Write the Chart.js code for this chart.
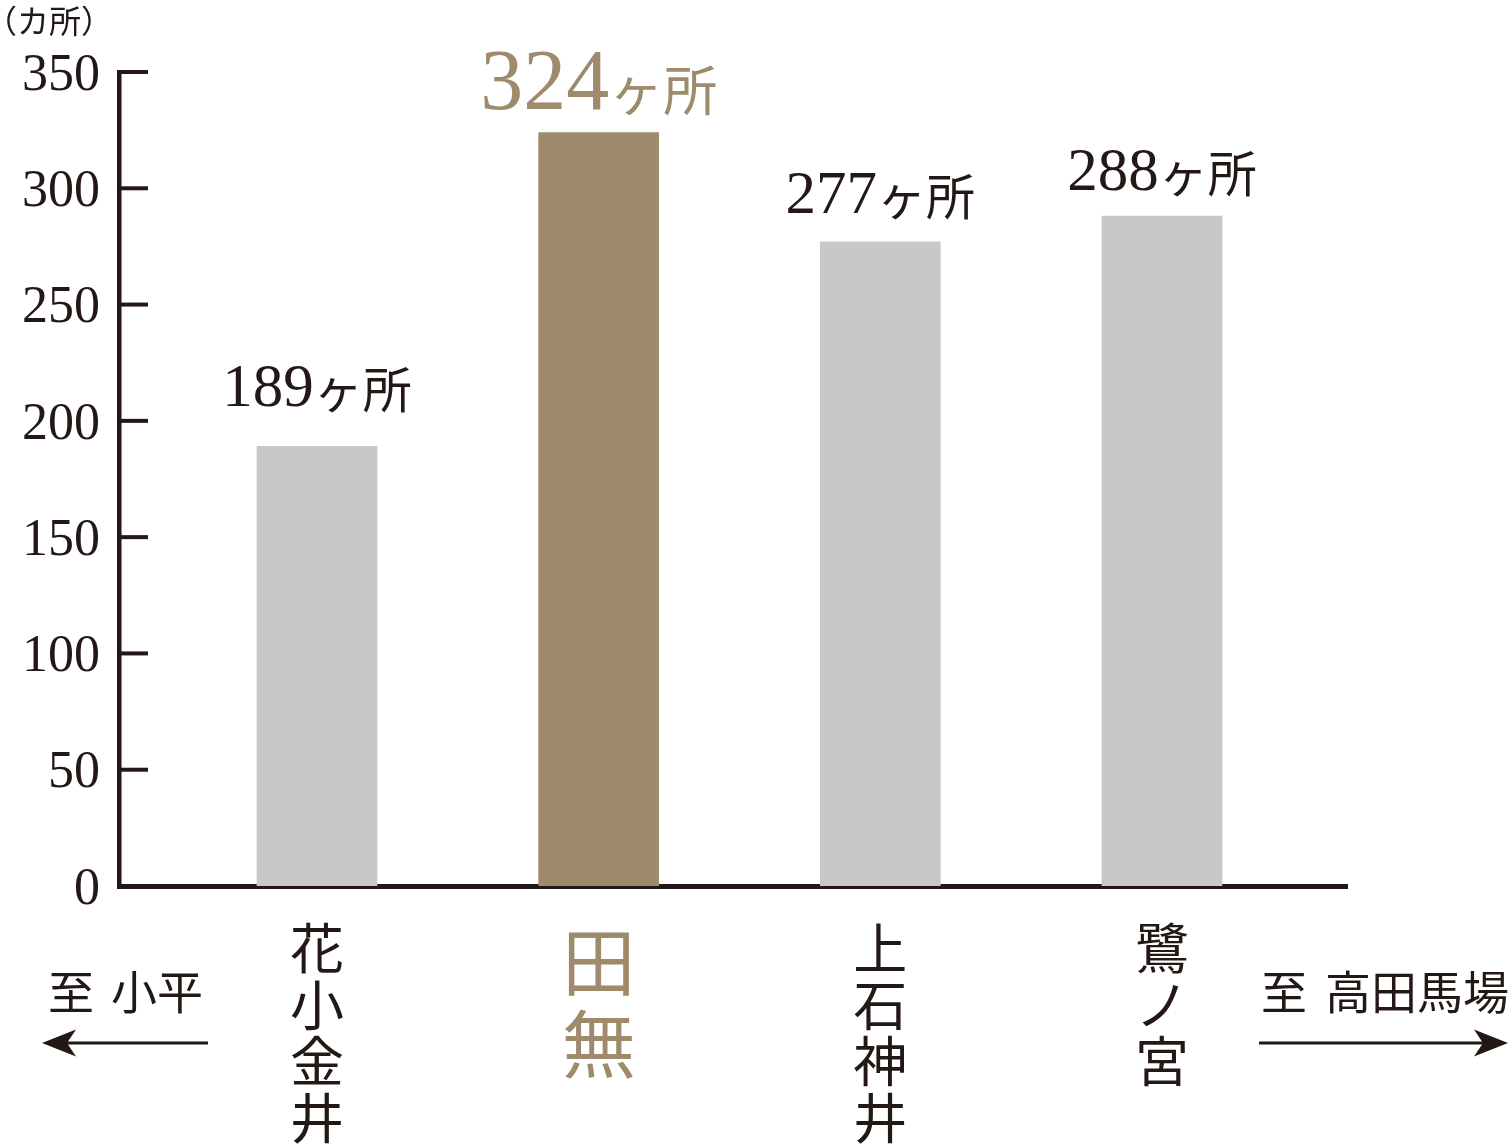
<!DOCTYPE html>
<html><head><meta charset="utf-8">
<script src="https://cdn.jsdelivr.net/npm/chart.js@4.4.0/dist/chart.umd.min.js"></script>
<style>html,body{margin:0;padding:0;background:#fff;} #wrap{position:relative;width:1512px;height:1146px;}</style>
</head><body><div id="wrap"><canvas id="c"></canvas></div>
<script>
// ---- data ----
const categories = ['花小金井', '田無', '上石神井', '鷺ノ宮'];
const counts = [189, 324, 277, 288];
const yTicks = [0, 50, 100, 150, 200, 250, 300, 350];
const unitLabel = '（カ所）';
const valueSuffix = 'ヶ所';
const leftDir = ['至', '小平'];
const rightDir = ['至', '高田馬場'];
const highlightIndex = 1;

// ---- styles ----
const DARK = '#231815', BROWN = '#9e8b6c', GRAY = '#c8c8c8';
const SERIF = '"Liberation Serif", "Noto Sans CJK JP", serif';
const CJK = '"Noto Sans CJK JP", sans-serif';
const labelGap = [40, 23, 29, 26];

const decor = {
  id: 'decor',
  afterDraw(chart) {
    const {ctx, chartArea: a, scales: {y}} = chart;
    ctx.save();
    // inner tick marks
    ctx.strokeStyle = DARK; ctx.lineWidth = 4;
    yTicks.forEach(v => {
      const py = y.getPixelForValue(v);
      ctx.beginPath(); ctx.moveTo(a.left, py); ctx.lineTo(a.left + 29, py); ctx.stroke();
    });
    // value labels
    const meta = chart.getDatasetMeta(0);
    meta.data.forEach((bar, i) => {
      const hl = i === highlightIndex;
      const numTxt = String(counts[i]);
      const numFont = (hl ? 86 : 61) + 'px ' + SERIF;
      const sufFont = (hl ? 54 : 49) + 'px ' + CJK;
      ctx.font = numFont; const wn = ctx.measureText(numTxt).width;
      ctx.font = sufFont; const ws = ctx.measureText(valueSuffix).width;
      const x0 = bar.x - (wn + ws) / 2;
      const by = bar.y - labelGap[i];
      ctx.fillStyle = hl ? BROWN : DARK;
      ctx.textBaseline = 'alphabetic'; ctx.textAlign = 'left';
      ctx.font = numFont; ctx.fillText(numTxt, x0, by);
      ctx.font = sufFont; ctx.fillText(valueSuffix, x0 + wn, by + 2);
    });
    // unit label
    ctx.fillStyle = DARK; ctx.font = '32px ' + CJK; ctx.textBaseline = 'middle';
    ctx.fillText(unitLabel, -15, 21);
    // direction texts
    ctx.font = '46px ' + CJK;
    ctx.fillText(leftDir[0], 48, 992);
    ctx.fillText(leftDir[1], 111, 992);
    ctx.fillText(rightDir[0], 1261, 992);
    ctx.fillText(rightDir[1], 1325, 992);
    // arrows
    const arrow = (tail, tip, yy) => {
      const d = tip > tail ? 1 : -1;
      ctx.strokeStyle = DARK; ctx.lineWidth = 3;
      ctx.beginPath(); ctx.moveTo(tail, yy); ctx.lineTo(tip - d * 20, yy); ctx.stroke();
      ctx.fillStyle = DARK;
      ctx.beginPath();
      ctx.moveTo(tip, yy);
      ctx.lineTo(tip - d * 34, yy - 13.5);
      ctx.lineTo(tip - d * 25, yy);
      ctx.lineTo(tip - d * 34, yy + 13.5);
      ctx.closePath(); ctx.fill();
    };
    arrow(208, 42, 1043);
    arrow(1259, 1508, 1043);
    ctx.restore();
  }
};

new Chart(document.getElementById('c'), {
  type: 'bar',
  data: {
    datasets: [{
      data: counts.map((v, i) => ({x: i, y: v})),
      backgroundColor: counts.map((_, i) => i === highlightIndex ? BROWN : GRAY),
      barThickness: 120,
      borderWidth: 0
    }]
  },
  options: {
    responsive: true, maintainAspectRatio: false, animation: false,
    devicePixelRatio: 1,
    layout: {padding: {top: 72, right: 165, left: 0, bottom: 0}},
    plugins: {legend: {display: false}, tooltip: {enabled: false}},
    scales: {
      x: {
        type: 'linear', min: -0.703, max: 3.657, offset: false, z: 1,
        afterBuildTicks: s => { s.ticks = categories.map((_, i) => ({value: i})); },
        afterFit: s => { s.height = 260; },
        grid: {display: false, drawTicks: false},
        border: {display: true, color: DARK, width: 5},
        ticks: {
          autoSkip: false, maxRotation: 0, minRotation: 0, padding: 34,
          callback: v => categories[v] ? categories[v].split('') : '',
          color: c => c.index === highlightIndex ? BROWN : DARK,
          font: c => c.index === highlightIndex
            ? {family: CJK, size: 74, lineHeight: 1.12}
            : {family: CJK, size: 54, lineHeight: 1.05}
        }
      },
      y: {
        min: 0, max: 350, z: 1,
        afterBuildTicks: s => { s.ticks = yTicks.map(v => ({value: v})); },
        afterFit: s => { s.width = 119; },
        grid: {display: false, drawTicks: false},
        border: {display: true, color: DARK, width: 4.5},
        ticks: {padding: 19, labelOffset: 4, color: DARK, font: {family: SERIF, size: 52}, callback: v => String(v)}
      }
    }
  },
  plugins: [decor]
});
</script>
</body></html>
